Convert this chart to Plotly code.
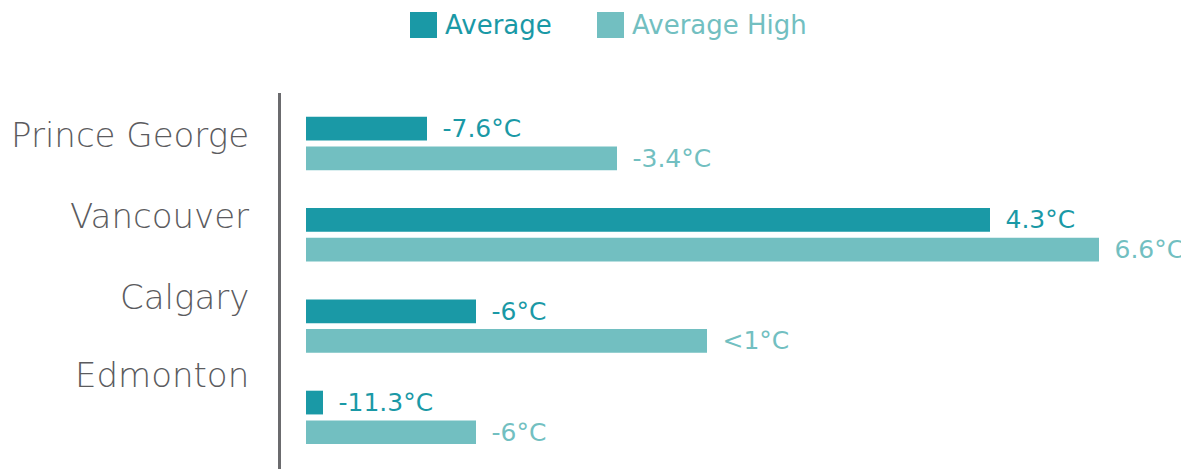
import plotly.graph_objects as go

# ---- data ----
cities = ["Prince George", "Vancouver", "Calgary", "Edmonton"]
series_names = ["Average", "Average High"]
# bar lengths (arbitrary units, as drawn in the reference)
avg_len = [12.1, 68.4, 17.0, 1.7]
high_len = [31.1, 79.3, 40.1, 17.0]
# value labels shown at the bar ends
avg_labels = ["-7.6°C", "4.3°C", "-6°C", "-11.3°C"]
high_labels = ["-3.4°C", "6.6°C", "<1°C", "-6°C"]

# ---- styling ----
FONT = "DejaVu Sans"
DARK = "#1A99A6"
LIGHT = "#72BFC1"
GREY = "#5B5B5E"
AXIS = "#6B6B6E"
colors = [DARK, LIGHT]

OFF = 8  # page body margin in the browser
W, H = 1189 - OFF, 469 - OFF
ML, MR, MT, MB = 281 - OFF, 89, 93 - OFF, 0
plot_w = W - ML - MR
plot_h = H - MT - MB


def px_x(px):
    return (px - OFF - ML) / plot_w


def px_y(py):
    return (H - MB - (py - OFF)) / plot_h


fig = go.Figure()
for name, vals, labels, col in zip(series_names, [avg_len, high_len],
                                   [avg_labels, high_labels], colors):
    fig.add_trace(go.Bar(
        y=cities, x=vals, orientation="h", name=name,
        marker=dict(color=col, line=dict(width=0)),
        text=labels, texttemplate="\u2002%{text}",
        textposition="outside", constraintext="none", cliponaxis=False,
        textfont=dict(family=FONT, size=25, color=col),
        showlegend=False, hoverinfo="skip",
    ))

# city labels (sit slightly above each bar pair, as in the reference)
label_pos = [-0.093, 0.794, 1.681, 2.54]
annotations = []
for city, yp in zip(cities, label_pos):
    annotations.append(dict(
        text=city, xref="paper", yref="y", x=px_x(251), y=yp,
        xanchor="right", yanchor="middle", showarrow=False,
        font=dict(family=FONT, size=34, color=GREY, weight=300),
    ))

# custom legend (large square swatches)
shapes = []
legend_x = [410, 597]
for name, col, lx in zip(series_names, colors, legend_x):
    shapes.append(dict(type="rect", xref="paper", yref="paper",
                       x0=px_x(lx), x1=px_x(lx + 27), y0=px_y(38), y1=px_y(12),
                       fillcolor=col, line=dict(width=0)))
    annotations.append(dict(
        text=name, xref="paper", yref="paper", x=px_x(lx + 33), y=px_y(25),
        xanchor="left", yanchor="middle", showarrow=False,
        font=dict(family=FONT, size=26, color=col),
    ))

fig.update_layout(
    width=W, height=H,
    margin=dict(l=ML, r=MR, t=MT, b=MB, pad=0),
    paper_bgcolor="white", plot_bgcolor="white",
    barmode="group", bargap=0.35, bargroupgap=0.2,
    xaxis=dict(range=[-2.5, 79.4], visible=False, fixedrange=True),
    yaxis=dict(type="category", range=[3.565, -0.553],
               showticklabels=False, ticks="", showgrid=False, zeroline=False,
               showline=True, linecolor=AXIS, linewidth=3, fixedrange=True),
    annotations=annotations, shapes=shapes,
    showlegend=False,
    font=dict(family=FONT),
)

fig.write_html("out.html")
